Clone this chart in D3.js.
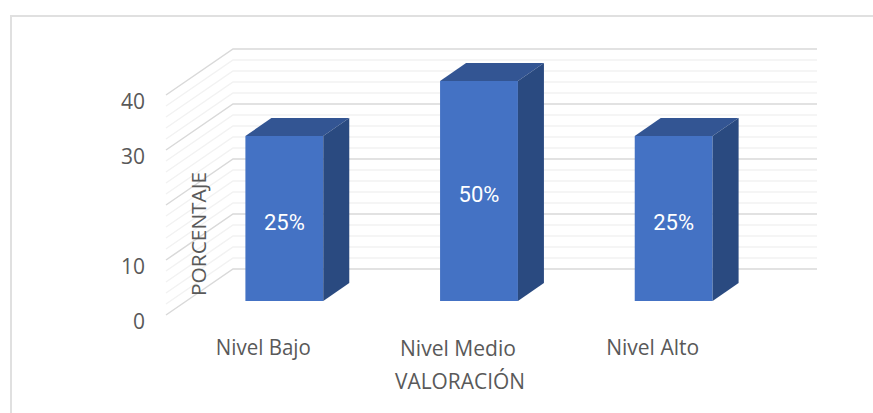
<!DOCTYPE html>
<html>
<head>
<meta charset="utf-8">
<script src="https://cdn.jsdelivr.net/npm/d3@7/dist/d3.min.js"></script>
<style>
  html, body { margin: 0; background: #fff; }
  text { font-family: "Open Sans", sans-serif; }
</style>
</head>
<body>
<div id="chart"></div>
<script>
// Chart data
const categories = ["Nivel Bajo", "Nivel Medio", "Nivel Alto"];
const barValues = [30, 40, 30];
const barLabels = ["25%", "50%", "25%"];
const tickLabels = [0, 10, 30, 40];
const gridValues = [0, 2, 4, 6, 8, 10, 12, 14, 16, 18, 20, 22, 24, 26, 28, 30, 32, 34, 36, 38, 40];

const width = 873;
const height = 413;

const svg = d3.select("#chart").append("svg")
    .attr("width", width)
    .attr("height", height)
    .style("display", "block");

// Outer frame, only top and left show in the picture
svg.append("path")
    .attr("d", "M11,413V16H873")
    .attr("fill", "none")
    .attr("stroke", "#e0e0e0")
    .attr("stroke-width", 2);

// Scales are on the front plane of the 3D box
const x = d3.scaleBand().domain(categories).range([166, 750]).paddingInner(0.6).paddingOuter(0.3);
const y = d3.scaleLinear().domain([0, 40]).range([315, 95]);

// Depth of the box and how far into it the bars sit
const wall = { dx: 67, dy: -46 };
const barShift = { dx: 21, dy: -14 };
const barDepth = { dx: 26, dy: -18 };

// Grid lines on the side and back wall
svg.append("g").selectAll("path")
    .data(gridValues)
    .enter()
    .append("path")
    .attr("d", d => `M${x.range()[0]},${y(d)}L${x.range()[0] + wall.dx},${y(d) + wall.dy}H${x.range()[1] + wall.dx}`)
    .attr("fill", "none")
    .attr("stroke", d => d % 10 === 0 ? "#d9d9d9" : "#f2f2f2")
    .attr("stroke-width", 1.5);

// Bars: front, top and side faces
const bars = svg.append("g").selectAll("g")
    .data(categories)
    .enter()
    .append("g")
    .attr("transform", `translate(${barShift.dx},${barShift.dy})`);

bars.append("rect")
    .attr("x", d => x(d))
    .attr("y", (d, i) => y(barValues[i]))
    .attr("width", x.bandwidth())
    .attr("height", (d, i) => y(0) - y(barValues[i]))
    .attr("fill", "#4472c4");

bars.append("path")
    .attr("d", (d, i) => {
        const x0 = x(d), x1 = x0 + x.bandwidth(), t = y(barValues[i]);
        return `M${x0},${t}L${x0 + barDepth.dx},${t + barDepth.dy}H${x1 + barDepth.dx}L${x1},${t}Z`;
    })
    .attr("fill", "#335593");

bars.append("path")
    .attr("d", (d, i) => {
        const x1 = x(d) + x.bandwidth(), t = y(barValues[i]), b = y(0);
        return `M${x1},${t}L${x1 + barDepth.dx},${t + barDepth.dy}V${b + barDepth.dy}L${x1},${b}Z`;
    })
    .attr("fill", "#2a4a80");

bars.append("text")
    .attr("x", d => x(d) + x.bandwidth() / 2)
    .attr("y", (d, i) => (y(barValues[i]) + y(0)) / 2 + 3.5)
    .attr("dy", "0.35em")
    .attr("text-anchor", "middle")
    .attr("fill", "#fff")
    .style("font-family", "Roboto, sans-serif")
    .style("font-size", "22px")
    .text((d, i) => barLabels[i]);

// Value axis labels
svg.append("g").selectAll("text")
    .data(tickLabels)
    .enter()
    .append("text")
    .attr("x", 145)
    .attr("y", d => y(d) + 7)
    .attr("dy", "0.35em")
    .attr("text-anchor", "end")
    .attr("fill", "#595959")
    .style("font-size", "21px")
    .text(d => d);

// Category labels
svg.append("g").selectAll("text")
    .data(categories)
    .enter()
    .append("text")
    .attr("x", d => x(d) + x.bandwidth() / 2)
    .attr("y", (d, i) => i === 1 ? 356 : 355)
    .attr("text-anchor", "middle")
    .attr("fill", "#595959")
    .attr("textLength", d => d === "Nivel Medio" ? 116 : d === "Nivel Bajo" ? 95 : 93)
    .attr("lengthAdjust", "spacingAndGlyphs")
    .style("font-size", "21px")
    .text(d => d);

// Axis titles
svg.append("text")
    .attr("x", 460)
    .attr("y", 389)
    .attr("text-anchor", "middle")
    .attr("fill", "#595959")
    .attr("textLength", 130)
    .attr("lengthAdjust", "spacingAndGlyphs")
    .style("font-size", "21px")
    .text("VALORACIÓN");

svg.append("text")
    .attr("transform", "translate(206,234) rotate(-90)")
    .attr("text-anchor", "middle")
    .attr("fill", "#595959")
    .attr("textLength", 124)
    .attr("lengthAdjust", "spacingAndGlyphs")
    .style("font-size", "20px")
    .text("PORCENTAJE");
</script>
</body>
</html>
